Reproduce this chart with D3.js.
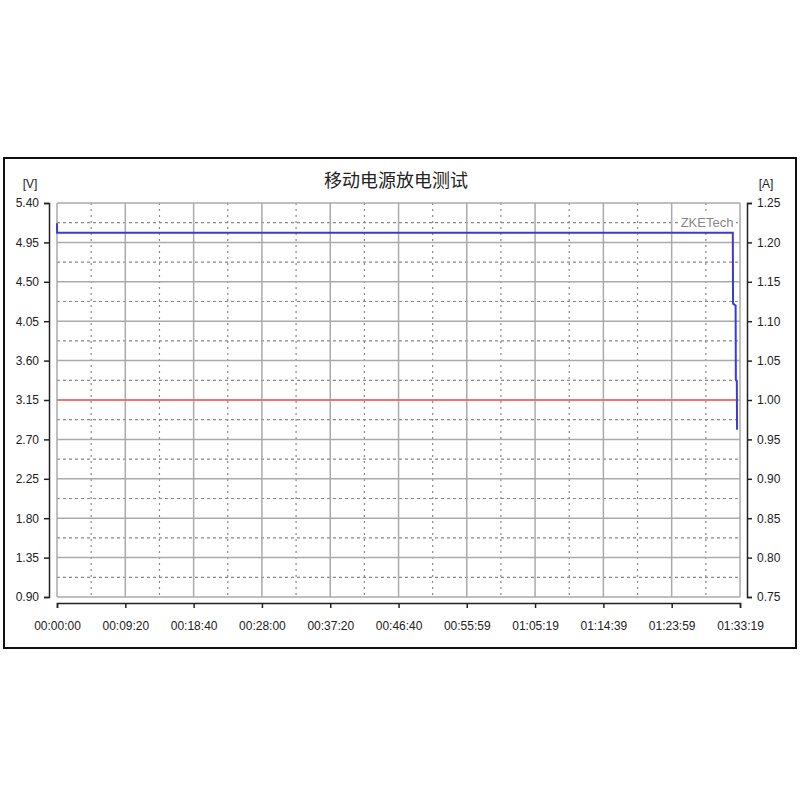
<!DOCTYPE html>
<html>
<head>
<meta charset="utf-8">
<script src="https://cdn.jsdelivr.net/npm/d3@7"></script>
<style>
  body { margin: 0; background: #fff; }
  svg text { font-family: "Liberation Sans", Arial, sans-serif; }
</style>
</head>
<body>
<div id="chart"></div>
<script>
// discharge test: voltage (blue, left axis) and current (red, right axis)
const width = 800, height = 800;
const margin = {top: 203, right: 60, bottom: 203, left: 57};
const plotRight = 740;

const title = "移动电源放电测试";
const tickSeconds = [0, 560, 1120, 1680, 2240, 2800, 3359, 3919, 4479, 5039, 5599];
const tickLabels = ["00:00:00", "00:09:20", "00:18:40", "00:28:00", "00:37:20", "00:46:40",
  "00:55:59", "01:05:19", "01:14:39", "01:23:59", "01:33:19"];
const voltTicks = [5.40, 4.95, 4.50, 4.05, 3.60, 3.15, 2.70, 2.25, 1.80, 1.35, 0.90];
const ampTicks = [1.25, 1.20, 1.15, 1.10, 1.05, 1.00, 0.95, 0.90, 0.85, 0.80, 0.75];

// [seconds, volts]
const voltage = [[0, 5.17], [1, 5.06], [5540, 5.06], [5542, 4.25], [5563, 4.23],
  [5565, 3.38], [5573, 3.36], [5575, 2.81]];
// [seconds, amps]
const current = [[0, 1.00], [5575, 1.00]];

const svg = d3.select("#chart").append("svg")
  .attr("width", width).attr("height", height);

const x = d3.scaleLinear().domain([0, 5599]).range([margin.left, plotRight]);
const yV = d3.scaleLinear().domain([0.90, 5.40]).range([597, margin.top]);
const yA = d3.scaleLinear().domain([0.75, 1.25]).range([597, margin.top]);

// outer frame
svg.append("rect").attr("x", 4).attr("y", 158).attr("width", 792).attr("height", 490)
  .attr("fill", "none").attr("stroke", "#111").attr("stroke-width", 2);

svg.append("text").attr("x", 396).attr("y", 187).attr("text-anchor", "middle")
  .attr("font-size", 18).attr("fill", "#222")
  .style("font-family", "'Noto Sans CJK SC', sans-serif").text(title);

// grid
const grid = svg.append("g");
const halfX = d3.pairs(tickSeconds).map(([a, b]) => (a + b) / 2);
const halfV = d3.pairs(voltTicks).map(([a, b]) => (a + b) / 2);

grid.selectAll(".hdash").data(halfV).join("line")
  .attr("x1", margin.left).attr("x2", plotRight)
  .attr("y1", d => yV(d)).attr("y2", d => yV(d))
  .attr("stroke", "#888").attr("stroke-width", 1.2).attr("stroke-dasharray", "3,3");
grid.selectAll(".vdash").data(halfX).join("line")
  .attr("x1", d => x(d)).attr("x2", d => x(d))
  .attr("y1", margin.top).attr("y2", 597)
  .attr("stroke", "#888").attr("stroke-width", 1.2).attr("stroke-dasharray", "2,4");
grid.selectAll(".hsolid").data(voltTicks).join("line")
  .attr("x1", margin.left).attr("x2", plotRight)
  .attr("y1", d => yV(d)).attr("y2", d => yV(d))
  .attr("stroke", "#aaa").attr("stroke-width", 1.5);
grid.selectAll(".vsolid").data(tickSeconds).join("line")
  .attr("x1", d => x(d)).attr("x2", d => x(d))
  .attr("y1", margin.top).attr("y2", 597)
  .attr("stroke", "#aaa").attr("stroke-width", 1.5);

// watermark
const wm = svg.append("g");
wm.append("rect").attr("x", 678).attr("y", 213).attr("width", 58).attr("height", 18).attr("fill", "#fff");
wm.append("text").attr("x", 707).attr("y", 227).attr("text-anchor", "middle")
  .attr("font-size", 13).attr("fill", "#888").text("ZKETech");

// axes
const axV = svg.append("g").attr("transform", "translate(49,0)")
  .call(d3.axisLeft(yV).tickValues(voltTicks).tickFormat(d3.format(".2f")).tickSize(5).tickSizeOuter(5));
const axA = svg.append("g").attr("transform", "translate(747,0)")
  .call(d3.axisRight(yA).tickValues(ampTicks).tickFormat(d3.format(".2f")).tickSize(5).tickSizeOuter(5));
const axT = svg.append("g").attr("transform", "translate(0,603)")
  .call(d3.axisBottom(x).tickValues(tickSeconds).tickFormat((d, i) => tickLabels[i]).tickSize(5).tickSizeOuter(5));
[axV, axA, axT].forEach(a => {
  a.selectAll("path, line").attr("stroke", "#222").attr("stroke-width", 1.5);
  a.selectAll("text").attr("font-size", 12).attr("fill", "#222")
    .style("font-family", "'Liberation Sans', Arial, sans-serif");
});
axV.selectAll("text").attr("x", -10);
axA.selectAll("text").attr("x", 10);
axT.selectAll("text").attr("y", 18);

svg.append("text").attr("x", 30).attr("y", 188).attr("text-anchor", "middle")
  .attr("font-size", 12).attr("fill", "#222").text("[V]");
svg.append("text").attr("x", 766).attr("y", 188).attr("text-anchor", "middle")
  .attr("font-size", 12).attr("fill", "#222").text("[A]");

// series
svg.append("path").datum(current).attr("fill", "none").attr("stroke", "#f07272")
  .attr("stroke-width", 2.2).attr("d", d3.line().x(d => x(d[0])).y(d => yA(d[1])));
svg.append("path").datum(voltage).attr("fill", "none").attr("stroke", "#3a3ad8")
  .attr("stroke-width", 2).attr("d", d3.line().x(d => x(d[0])).y(d => yV(d[1])));
</script>
</body>
</html>
